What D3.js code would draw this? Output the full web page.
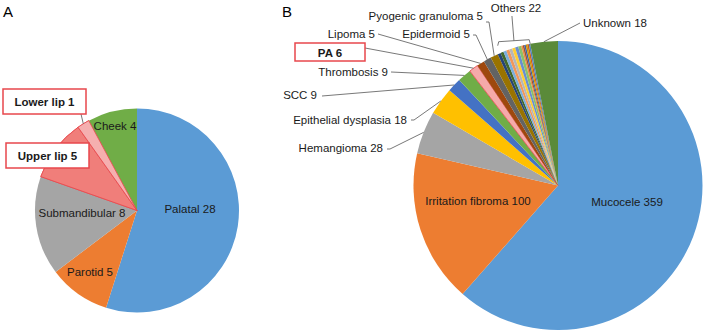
<!DOCTYPE html>
<html>
<head>
<meta charset="utf-8">
<script src="https://cdn.jsdelivr.net/npm/d3@7"></script>
<style>
  body { margin: 0; background: #fff; }
  svg { display: block; font-family: "Liberation Sans", Arial, sans-serif; }
  .lbl { font-size: 11.5px; fill: #1a1a1a; }
  .bold { font-weight: bold; }
  .leader { stroke: #555; stroke-width: 0.8; fill: none; }
</style>
</head>
<body>
<svg id="chart" width="704" height="333"></svg>
<script>
// panel A - salivary gland location
const aNames = ["Palatal", "Parotid", "Submandibular", "Upper lip", "Lower lip", "Cheek"];
const aValues = [28, 5, 8, 5, 1, 4];
const aColors = ["#5B9BD5", "#ED7D31", "#A5A5A5", "#F07E7A", "#F5AFAF", "#70AD47"];

// panel B - diagnosis
const bNames = ["Mucocele", "Irritation fibroma", "Hemangioma", "Epithelial dysplasia", "SCC",
    "Thrombosis", "PA", "Lipoma", "Epidermoid", "Pyogenic granuloma", "Others", "Unknown"];
const bValues = [359, 100, 28, 18, 9, 9, 6, 5, 5, 5, 22, 18];
const bColors = ["#5B9BD5", "#ED7D31", "#A5A5A5", "#FFC000", "#4472C4", "#70AD47",
    "#F5AAAA", "#9E480E", "#636363", "#997300", null, "#5A8A3A"];
// the "Others" group is split into small slices
const othersValues = [2, 2, 2, 2, 2, 2, 2, 2, 1, 1, 1, 1, 1, 1];
const othersColors = ["#264478", "#43682B", "#7CAFDD", "#F1975A", "#B7B7B7", "#FFCD33", "#698ED0",
    "#8CC168", "#F08A40", "#A0522D", "#3A5FA8", "#CC9A00", "#D26012", "#4F7FC0"];

const highlight = "#E8474C";
const svg = d3.select("#chart");

svg.append("text").attr("x", 3).attr("y", 17).style("font-size", "15px").text("A");
svg.append("text").attr("x", 282).attr("y", 17).style("font-size", "15px").text("B");

const pie = d3.pie().sort(null).value(d => d.value);

// ---------- panel A ----------
const A = { cx: 137, cy: 210.5, r: 102 };
const aData = aNames.map((n, i) => ({ name: n, value: aValues[i], color: aColors[i] }));
const aArcs = pie(aData);
const arcA = d3.arc().innerRadius(0).outerRadius(A.r);
const gA = svg.append("g").attr("transform", `translate(${A.cx},${A.cy})`);

gA.selectAll("path").data(aArcs).join("path")
    .attr("d", arcA)
    .attr("fill", d => d.data.color)
    .attr("stroke", d => d.data.name.includes("lip") ? highlight : "none")
    .attr("stroke-width", 0.8);
// redraw highlighted slices on top so the red outline is complete
gA.selectAll("path.hl").data(aArcs.filter(d => d.data.name.includes("lip"))).join("path")
    .attr("class", "hl").attr("d", arcA)
    .attr("fill", d => d.data.color).attr("stroke", highlight).attr("stroke-width", 0.8);

const aInside = { Palatal: [190, 213], Parotid: [90, 276], Submandibular: [82, 217], Cheek: [115, 130] };
Object.keys(aInside).forEach(k => {
    const i = aNames.indexOf(k);
    svg.append("text").attr("class", "lbl")
        .attr("x", aInside[k][0]).attr("y", aInside[k][1])
        .attr("text-anchor", "middle")
        .text(aNames[i] + " " + aValues[i]);
});

function polar(cx, cy, r, ang) {
    return [cx + r * Math.sin(ang), cy - r * Math.cos(ang)];
}

// boxed labels for panel A
const aBoxes = [
    { name: "Lower lip", box: [3, 89, 83, 25], line: true },
    { name: "Upper lip", box: [6, 143, 83, 25], line: false }
];
aBoxes.forEach(b => {
    const i = aNames.indexOf(b.name);
    const a = aArcs[i];
    if (b.line) {
        const p = polar(A.cx, A.cy, A.r, (a.startAngle + a.endAngle) / 2);
        svg.append("path").attr("class", "leader")
            .attr("d", d3.line()([[b.box[0] + b.box[2] - 5, b.box[1] + b.box[3]], p]))
            .attr("stroke", highlight);
    }
    svg.append("rect")
        .attr("x", b.box[0]).attr("y", b.box[1]).attr("width", b.box[2]).attr("height", b.box[3])
        .attr("fill", "#fff").attr("stroke", highlight).attr("stroke-width", 1.5);
    svg.append("text").attr("class", "lbl bold")
        .attr("x", b.box[0] + b.box[2] / 2).attr("y", b.box[1] + 16.5)
        .attr("text-anchor", "middle")
        .text(aNames[i] + " " + aValues[i]);
});

// ---------- panel B ----------
const B = { cx: 558, cy: 185.5, r: 144.5 };
const bData = [];
bNames.forEach((n, i) => {
    if (n === "Others") {
        othersValues.forEach((v, j) => bData.push({ name: n, value: v, color: othersColors[j], sub: j }));
    } else {
        bData.push({ name: n, value: bValues[i], color: bColors[i] });
    }
});
const bArcs = pie(bData);
const arcB = d3.arc().innerRadius(0).outerRadius(B.r);
const gB = svg.append("g").attr("transform", `translate(${B.cx},${B.cy})`);

gB.selectAll("path").data(bArcs).join("path")
    .attr("d", arcB)
    .attr("fill", d => d.data.color)
    .attr("stroke", d => d.data.name === "PA" ? highlight : "none")
    .attr("stroke-width", 0.8);

const bInside = { "Mucocele": [627, 206], "Irritation fibroma": [478, 205] };
Object.keys(bInside).forEach(k => {
    const i = bNames.indexOf(k);
    svg.append("text").attr("class", "lbl")
        .attr("x", bInside[k][0]).attr("y", bInside[k][1])
        .attr("text-anchor", "middle")
        .text(bNames[i] + " " + bValues[i]);
});

function sliceMid(name) {
    const a = bArcs.find(d => d.data.name === name);
    return polar(B.cx, B.cy, B.r, (a.startAngle + a.endAngle) / 2);
}

// outside labels: text anchor point and where the leader starts
const bOutside = [
    { name: "Pyogenic granuloma", x: 483, y: 20, anchor: "end", from: [[486, 22], [489, 22]] },
    { name: "Epidermoid", x: 470, y: 38, anchor: "end", from: [[473, 35], [476, 35]] },
    { name: "Lipoma", x: 375, y: 38, anchor: "end", from: [[378, 34]] },
    { name: "Thrombosis", x: 388, y: 76, anchor: "end", from: [[391, 72]] },
    { name: "SCC", x: 317, y: 99, anchor: "end", from: [[322, 96]] },
    { name: "Epithelial dysplasia", x: 407, y: 124, anchor: "end", from: [[411, 120], [414, 120]] },
    { name: "Hemangioma", x: 383, y: 152, anchor: "end", from: [[387, 149], [390, 149]] },
    { name: "Unknown", x: 583, y: 27, anchor: "start", from: [[580, 23]] }
];
bOutside.forEach(o => {
    const i = bNames.indexOf(o.name);
    svg.append("path").attr("class", "leader")
        .attr("d", d3.line()(o.from.concat([sliceMid(o.name)])));
    svg.append("text").attr("class", "lbl")
        .attr("x", o.x).attr("y", o.y).attr("text-anchor", o.anchor)
        .text(bNames[i] + " " + bValues[i]);
});

// PA boxed label
const paBox = [295, 43, 70, 18];
const iPA = bNames.indexOf("PA");
svg.append("path").attr("class", "leader")
    .attr("d", d3.line()([[paBox[0] + paBox[2], paBox[1] + 5], sliceMid("PA")]));
svg.append("rect")
    .attr("x", paBox[0]).attr("y", paBox[1]).attr("width", paBox[2]).attr("height", paBox[3])
    .attr("fill", "#fff").attr("stroke", highlight).attr("stroke-width", 1.5);
svg.append("text").attr("class", "lbl bold")
    .attr("x", paBox[0] + paBox[2] / 2).attr("y", paBox[1] + 13.5)
    .attr("text-anchor", "middle")
    .text(bNames[iPA] + " " + bValues[iPA]);

// Others bracket
const oArcs = bArcs.filter(d => d.data.name === "Others");
const oStart = polar(B.cx, B.cy, B.r, oArcs[0].startAngle);
const oEnd = polar(B.cx, B.cy, B.r, oArcs[oArcs.length - 1].endAngle);
const bTop = oEnd[1] - 3;
const midX = (oStart[0] + oEnd[0]) / 2;
svg.append("path").attr("class", "leader")
    .attr("d", d3.line()([[oStart[0], bTop + 5], [oStart[0] + 1, bTop + 1], [oEnd[0] - 1, bTop - 1], [oEnd[0], bTop + 3]]));
svg.append("path").attr("class", "leader")
    .attr("d", d3.line()([[midX, bTop], [midX - 2, 16]]));
const iOth = bNames.indexOf("Others");
svg.append("text").attr("class", "lbl")
    .attr("x", 516).attr("y", 12).attr("text-anchor", "middle")
    .text(bNames[iOth] + " " + d3.sum(othersValues));
</script>
</body>
</html>
